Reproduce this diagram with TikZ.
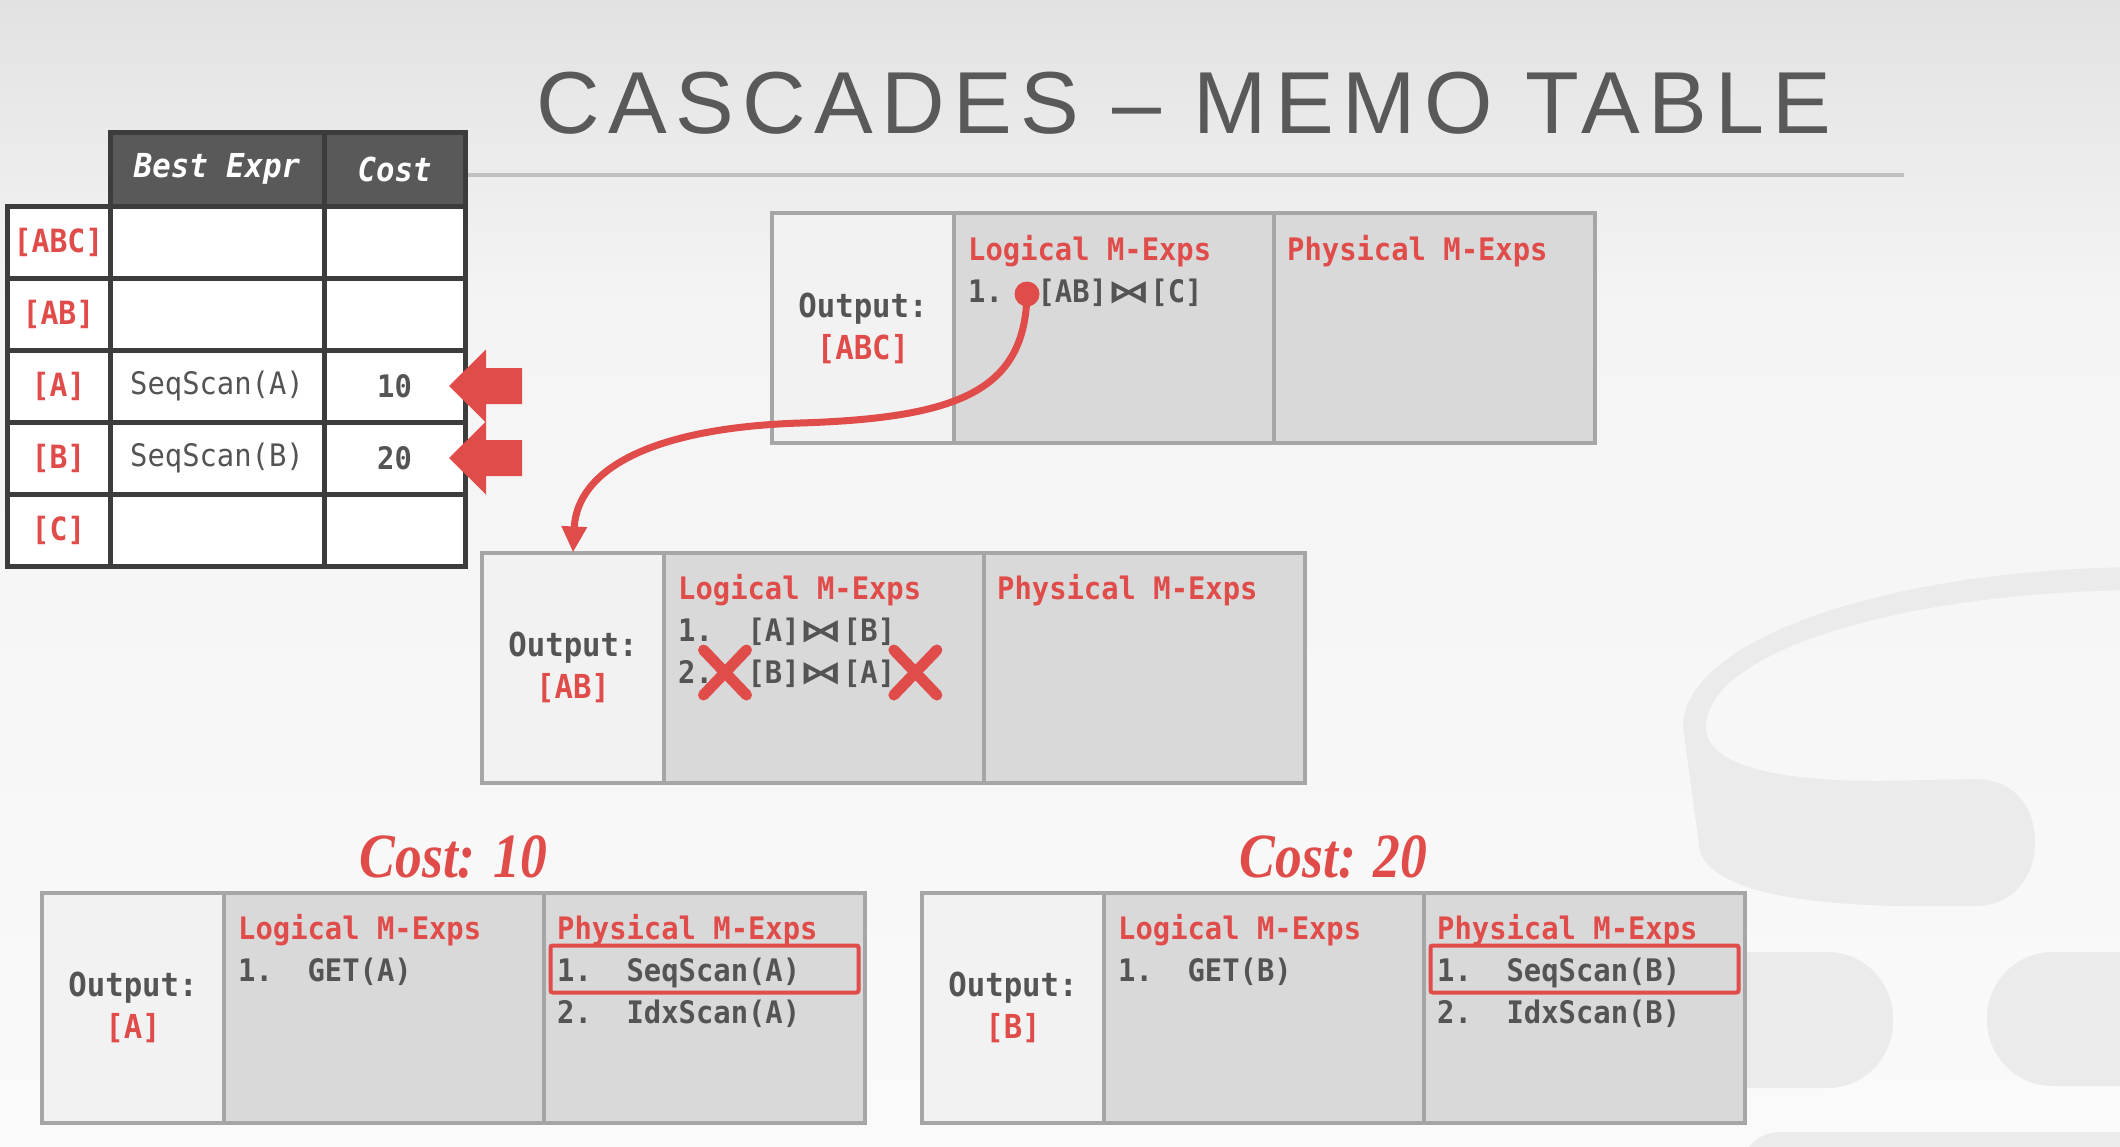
\documentclass[tikz,border=0pt]{standalone}
\usepackage{fontspec}
\usepackage{graphicx}
\usetikzlibrary{positioning, calc, shapes.misc, arrows.meta}

\newfontfamily\monofont[FakeStretch=0.93]{DejaVu Sans Mono}
\newfontfamily\titlefont[LetterSpace=9.5]{Liberation Sans}
\newfontfamily\costfont[FakeStretch=0.85]{Liberation Serif}
\newfontfamily\symfont{DejaVu Sans}
\newcommand{\bowjoin}{\scalebox{1.4}[1]{\symfont ⋈}}

\definecolor{memored}{RGB}{224,76,74}
\definecolor{inkgray}{RGB}{84,84,84}
\definecolor{cellgray}{RGB}{217,217,217}
\definecolor{cellwhite}{RGB}{242,242,242}
\definecolor{boxline}{RGB}{166,166,166}
\definecolor{tabline}{RGB}{60,60,60}
\definecolor{headfill}{RGB}{89,89,89}
\definecolor{rulegray}{RGB}{192,192,192}
\definecolor{bgtop}{RGB}{226,226,226}
\definecolor{bgmid}{RGB}{244,244,244}
\definecolor{bgbot}{RGB}{250,250,250}
\definecolor{wmgray}{RGB}{235,235,235}

\tikzstyle{outcell} = [rectangle, draw=boxline, line width=4pt, fill=cellwhite, minimum width=182pt, minimum height=230pt, outer sep=0pt, inner sep=0pt, align=center, font=\monofont\bfseries\fontsize{33}{42}\selectfont, text=inkgray]
\tikzstyle{logcell} = [rectangle, draw=boxline, line width=4pt, fill=cellgray, minimum width=320pt, minimum height=230pt, outer sep=0pt]
\tikzstyle{phycell} = [logcell, minimum width=321pt]
\tikzstyle{mhead} = [anchor=base west, inner sep=0pt, font=\monofont\bfseries\fontsize{31}{42}\selectfont, text=memored]
\tikzstyle{mitem} = [anchor=base west, inner sep=0pt, font=\monofont\bfseries\fontsize{31}{42}\selectfont, text=inkgray]
\tikzstyle{pick} = [rectangle, draw=memored, line width=4pt, rounded corners=2pt, minimum width=308pt, minimum height=47pt]
\tikzstyle{cost} = [anchor=base, inner sep=0pt, font=\costfont\bfseries\itshape\fontsize{63}{63}\selectfont, text=memored]
\tikzstyle{crossmark} = [cross out, draw=memored, line width=11pt, line cap=round, minimum width=32pt, minimum height=34pt, inner sep=0pt]
\tikzstyle{colhead} = [rectangle, draw=tabline, line width=5pt, fill=headfill, minimum height=74pt, outer sep=0pt, font=\monofont\bfseries\itshape\fontsize{33}{36}\selectfont, text=white]
\tikzstyle{tabcell} = [rectangle, draw=tabline, line width=5pt, fill=white, minimum height=72pt, outer sep=0pt, font=\monofont\fontsize{31}{36}\selectfont, text=inkgray]
\tikzstyle{tabkey} = [tabcell, minimum width=103pt, font=\monofont\bfseries\fontsize{32}{36}\selectfont, text=memored]
\tikzstyle{arrow} = [memored, line width=7pt, -{Triangle[length=26pt,width=24pt]}]

\begin{document}
\begin{tikzpicture}[x=1pt, y=-1pt]

\useasboundingbox (0,0) rectangle (2120,1146);
\shade[top color=bgtop, bottom color=bgmid] (0,0) rectangle (2120,300);
\shade[top color=bgmid, bottom color=bgbot] (0,300) rectangle (2120,1146);

% watermark
\begin{scope}
\clip (0,0) rectangle (2120,1146);
\fill[wmgray] (1683,727) arc[start angle=180, end angle=270, x radius=467, y radius=160] -- (2150,590) arc[start angle=270, end angle=180, x radius=444, y radius=137] -- cycle;
\fill[wmgray] (1683,727) -- (1700,852) .. controls (1712,885) and (1780,904) .. (1900,906) -- (1975,906) .. controls (2012,906) and (2035,878) .. (2035,842) .. controls (2035,805) and (2012,779) .. (1975,779) -- (1880,781) .. controls (1765,781) and (1706,762) .. (1706,727) -- cycle;
\fill[wmgray, rounded corners=66pt] (1650,952) rectangle (1893,1088);
\fill[wmgray, rounded corners=66pt] (1987,952) rectangle (2260,1086);
\fill[wmgray, rounded corners=40pt] (1740,1132) rectangle (2260,1260);
\end{scope}

\node (title) [anchor=base, font=\titlefont\fontsize{88}{88}\selectfont, text=headfill] at (1184,133) {CASCADES – MEMO TABLE};
\draw[rulegray, line width=4pt] (440,175) -- (1904,175);

% memo table
\node (hexpr) [colhead, minimum width=214pt] at (217,169) {Best Expr};
\node (hcost) [colhead, minimum width=141pt, right=0pt of hexpr] {Cost};
\node (eabc) [tabcell, minimum width=214pt, below=0pt of hexpr] {};
\node (kabc) [tabkey, left=0pt of eabc] {[ABC]};
\node (cabc) [tabcell, minimum width=141pt, right=0pt of eabc] {};
\node (eab) [tabcell, minimum width=214pt, below=0pt of eabc] {};
\node (kab) [tabkey, left=0pt of eab] {[AB]};
\node (cab) [tabcell, minimum width=141pt, right=0pt of eab] {};
\node (ea) [tabcell, minimum width=214pt, below=0pt of eab] {SeqScan(A)};
\node (ka) [tabkey, left=0pt of ea] {[A]};
\node (ca) [tabcell, minimum width=141pt, right=0pt of ea, font=\monofont\bfseries\fontsize{31}{36}\selectfont] {10};
\node (eb) [tabcell, minimum width=214pt, below=0pt of ea] {SeqScan(B)};
\node (kb) [tabkey, left=0pt of eb] {[B]};
\node (cb) [tabcell, minimum width=141pt, right=0pt of eb, font=\monofont\bfseries\fontsize{31}{36}\selectfont] {20};
\node (ec) [tabcell, minimum width=214pt, below=0pt of eb] {};
\node (kc) [tabkey, left=0pt of ec] {[C]};
\node (cc) [tabcell, minimum width=141pt, right=0pt of ec] {};

\begin{scope}[shift={(ca.east)}]
\fill[memored] (-16,0) -- (21,-36.5) -- (21,-18) -- (57,-18) -- (57,18) -- (21,18) -- (21,36.5) -- cycle;
\end{scope}
\begin{scope}[shift={(cb.east)}]
\fill[memored] (-16,0) -- (21,-36.5) -- (21,-18) -- (57,-18) -- (57,18) -- (21,18) -- (21,36.5) -- cycle;
\end{scope}

% group [ABC]
\node (outABC) [outcell] at (863,328) {Output:\\\textcolor{memored}{[ABC]}};
\node (lgABC) [logcell, right=0pt of outABC] {};
\node (phABC) [phycell, right=0pt of lgABC] {};
\node (lhABC) [mhead] at ([xshift=14pt, yshift=-47pt]lgABC.north west) {Logical M-Exps};
\node (l1ABC) [mitem] at ([xshift=14pt, yshift=-89pt]lgABC.north west) {1.\ \ [AB]\bowjoin[C]};
\node (phhABC) [mhead] at ([xshift=13pt, yshift=-47pt]phABC.north west) {Physical M-Exps};
\node (dotABC) [circle, fill=memored, minimum size=25pt, inner sep=0pt] at ([xshift=59pt, yshift=8pt]l1ABC.base west) {};

% group [AB]
\node (outAB) [outcell] at (573,667.5) {Output:\\\textcolor{memored}{[AB]}};
\node (lgAB) [logcell, right=0pt of outAB] {};
\node (phAB) [phycell, right=0pt of lgAB] {};
\node (lhAB) [mhead] at ([xshift=14pt, yshift=-47pt]lgAB.north west) {Logical M-Exps};
\node (l1AB) [mitem] at ([xshift=14pt, yshift=-89pt]lgAB.north west) {1.\ \ [A]\bowjoin[B]};
\node (l2AB) [mitem] at ([xshift=14pt, yshift=-131pt]lgAB.north west) {2.\ \ [B]\bowjoin[A]};
\node (phhAB) [mhead] at ([xshift=13pt, yshift=-47pt]phAB.north west) {Physical M-Exps};
\node (xl2AB) [crossmark] at ([xshift=47pt, yshift=11pt]l2AB.base west) {};
\node (xr2AB) [crossmark] at ([xshift=20pt, yshift=11pt]l2AB.base east) {};

% group [A]
\node (outA) [outcell] at (133,1007.5) {Output:\\\textcolor{memored}{[A]}};
\node (lgA) [logcell, right=0pt of outA] {};
\node (phA) [phycell, right=0pt of lgA] {};
\node (costA) [cost] at ($(outA.north west)!0.5!(phA.north east) + (0pt,15pt)$) {Cost: 10};
\node (lhA) [mhead] at ([xshift=14pt, yshift=-47pt]lgA.north west) {Logical M-Exps};
\node (l1A) [mitem] at ([xshift=14pt, yshift=-89pt]lgA.north west) {1.\ \ GET(A)};
\node (phhA) [mhead] at ([xshift=13pt, yshift=-47pt]phA.north west) {Physical M-Exps};
\node (p1A) [mitem] at ([xshift=13pt, yshift=-89pt]phA.north west) {1.\ \ SeqScan(A)};
\node (p2A) [mitem] at ([xshift=13pt, yshift=-131pt]phA.north west) {2.\ \ IdxScan(A)};
\node (pickA) [pick] at ([yshift=-76.5pt]phA.north) {};

% group [B]
\node (outB) [outcell] at (1013,1007.5) {Output:\\\textcolor{memored}{[B]}};
\node (lgB) [logcell, right=0pt of outB] {};
\node (phB) [phycell, right=0pt of lgB] {};
\node (costB) [cost] at ($(outB.north west)!0.5!(phB.north east) + (0pt,15pt)$) {Cost: 20};
\node (lhB) [mhead] at ([xshift=14pt, yshift=-47pt]lgB.north west) {Logical M-Exps};
\node (l1B) [mitem] at ([xshift=14pt, yshift=-89pt]lgB.north west) {1.\ \ GET(B)};
\node (phhB) [mhead] at ([xshift=13pt, yshift=-47pt]phB.north west) {Physical M-Exps};
\node (p1B) [mitem] at ([xshift=13pt, yshift=-89pt]phB.north west) {1.\ \ SeqScan(B)};
\node (p2B) [mitem] at ([xshift=13pt, yshift=-131pt]phB.north west) {2.\ \ IdxScan(B)};
\node (pickB) [pick] at ([yshift=-76.5pt]phB.north) {};

% Arrows
\draw [arrow] (dotABC.center) .. controls (1025,390) and (960,418) .. (800,423) .. controls (650,428) and (577,470) .. (outAB.north);

\end{tikzpicture}
\end{document}
